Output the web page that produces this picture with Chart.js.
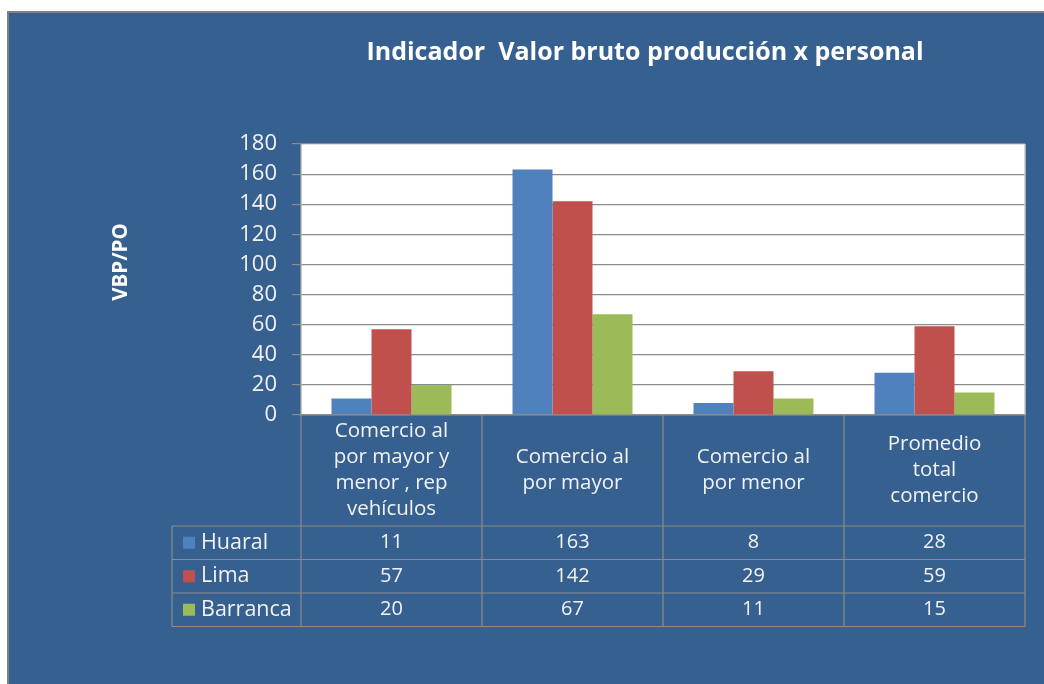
<!DOCTYPE html>
<html>
<head>
<meta charset="utf-8">
<script src="https://cdn.jsdelivr.net/npm/chart.js@4/dist/chart.umd.min.js"></script>
<style>
  html, body { margin: 0; padding: 0; background: #ffffff; }
  #wrap { width: 1044px; height: 684px; position: relative; }
</style>
</head>
<body>
<div id="wrap"><canvas id="c" width="1044" height="684"></canvas></div>
<script>
// ---- Data ----
const categories = [
  ["Comercio al", "por mayor y", "menor , rep", "vehículos"],
  ["Comercio al", "por mayor"],
  ["Comercio al", "por menor"],
  ["Promedio", "total", "comercio"]
];
const seriesNames = ["Huaral", "Lima", "Barranca"];
const huaral = [11, 163, 8, 28];
const lima = [57, 142, 29, 59];
const barranca = [20, 67, 11, 15];
const yTicks = [0, 20, 40, 60, 80, 100, 120, 140, 160, 180];
const chartTitle = "Indicador  Valor bruto producción x personal";
const yTitle = "VBP/PO";

// ---- Styles ----
const colors = ["#4F81BD", "#C0504D", "#9BBB59"];
const panelColor = "#36608F";
const lineColor = "#8C8C8C";
const textColor = "#F2F2F2";
const FONT = "'Open Sans', 'DejaVu Sans', sans-serif";

const seriesValues = [huaral, lima, barranca];

const tablePlugin = {
  id: 'tablePlugin',
  beforeDraw(chart) {
    const ctx = chart.ctx;
    const a = chart.chartArea;
    ctx.save();
    ctx.fillStyle = panelColor;
    ctx.fillRect(8, 12, 1044 - 8, 684 - 12);
    ctx.strokeStyle = "#808080";
    ctx.lineWidth = 2;
    ctx.beginPath();
    ctx.moveTo(8, 684);
    ctx.lineTo(8, 12);
    ctx.lineTo(1044, 12);
    ctx.stroke();
    ctx.fillStyle = "#ffffff";
    ctx.fillRect(a.left, a.top, a.right - a.left, a.bottom - a.top);
    ctx.restore();
  },
  afterDraw(chart) {
    const ctx = chart.ctx;
    const a = chart.chartArea;
    const xs = chart.scales.x;
    const n = categories.length;
    const bounds = [a.left];
    for (let i = 0; i < n - 1; i++) {
      bounds.push((xs.getPixelForValue(i) + xs.getPixelForValue(i + 1)) / 2);
    }
    bounds.push(a.right);
    const legendLeft = 172;
    const headerBottom = 526;
    const rowH = 33.5;
    const rows = seriesNames.map((_, i) => headerBottom + i * rowH);
    const tableBottom = headerBottom + seriesNames.length * rowH;

    ctx.save();
    ctx.strokeStyle = "#C8C8C8";
    ctx.lineWidth = 1.5;
    ctx.beginPath();
    ctx.moveTo(a.right, a.top);
    ctx.lineTo(a.right, a.bottom);
    ctx.stroke();

    ctx.strokeStyle = lineColor;
    ctx.lineWidth = 1.2;
    ctx.beginPath();
    ctx.moveTo(a.left, a.bottom);
    ctx.lineTo(a.right, a.bottom);
    bounds.forEach(x => {
      ctx.moveTo(x, a.bottom);
      ctx.lineTo(x, tableBottom);
    });
    ctx.moveTo(legendLeft, headerBottom);
    ctx.lineTo(legendLeft, tableBottom);
    for (let r = 0; r <= seriesNames.length; r++) {
      const y = headerBottom + r * rowH;
      ctx.moveTo(legendLeft, y);
      ctx.lineTo(a.right, y);
    }
    ctx.stroke();

    ctx.fillStyle = textColor;
    ctx.font = "20.5px " + FONT;
    ctx.textAlign = "center";
    ctx.textBaseline = "middle";
    const lh = 26;
    const headerMid = (a.bottom + headerBottom) / 2;
    categories.forEach((lines, i) => {
      const cx = (bounds[i] + bounds[i + 1]) / 2;
      const y0 = headerMid - (lines.length - 1) * lh / 2;
      lines.forEach((t, j) => ctx.fillText(t, cx, y0 + j * lh));
    });

    seriesNames.forEach((name, r) => {
      const cy = rows[r] + rowH / 2;
      ctx.fillStyle = colors[r];
      ctx.fillRect(183, cy - 6, 12, 12);
      ctx.fillStyle = textColor;
      ctx.textAlign = "left";
      ctx.font = "21.5px " + FONT;
      ctx.fillText(name, 201, cy);
      ctx.textAlign = "center";
      ctx.font = "20px " + FONT;
      seriesValues[r].forEach((v, i) => {
        const cx = (bounds[i] + bounds[i + 1]) / 2;
        ctx.fillText(String(v), cx, cy);
      });
    });

    ctx.font = "bold 25px " + FONT;
    ctx.textAlign = "center";
    ctx.fillStyle = "#ffffff";
    ctx.fillText(chartTitle, 645, 53);

    ctx.translate(121, 262);
    ctx.rotate(-Math.PI / 2);
    ctx.font = "bold 20.5px " + FONT;
    ctx.fillText(yTitle, 0, 0);
    ctx.restore();
  }
};

new Chart(document.getElementById('c'), {
  type: 'bar',
  data: {
    labels: categories.map(c => c.join(' ')),
    datasets: seriesNames.map((name, i) => ({
      label: name,
      data: seriesValues[i],
      backgroundColor: colors[i],
      borderWidth: 0,
      categoryPercentage: 0.663,
      barPercentage: 1.0
    }))
  },
  options: {
    responsive: false,
    animation: false,
    devicePixelRatio: 1,
    layout: { padding: { left: 0, top: 144, right: 19, bottom: 684 - 415 } },
    plugins: {
      legend: { display: false },
      title: { display: false },
      tooltip: { enabled: false }
    },
    scales: {
      x: { display: false },
      y: {
        min: 0,
        max: 180,
        afterFit(scale) { scale.width = 301; },
        afterBuildTicks(scale) { scale.ticks = yTicks.map(v => ({ value: v })); },
        ticks: {
          color: textColor,
          font: { family: FONT, size: 22 },
          padding: 15
        },
        grid: {
          color: lineColor,
          lineWidth: 1.2,
          tickLength: 9,
          drawTicks: true
        },
        border: { color: lineColor, width: 1.5 }
      }
    }
  },
  plugins: [tablePlugin]
});
</script>
</body>
</html>
